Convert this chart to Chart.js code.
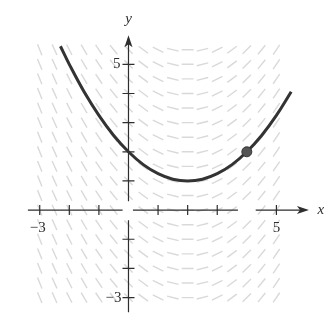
<!DOCTYPE html>
<html lang="en">
<head>
  <meta charset="UTF-8" />
  <title>Slope field dy/dx = (x - 2)/2</title>
  <style>
    html, body {
      margin: 0;
      padding: 0;
      background: #fff;
    }
    #wrap {
      width: 333px;
      height: 324px;
    }
  </style>
</head>
<body>
  <div id="wrap"><canvas id="field"></canvas></div>

  <script src="https://cdn.jsdelivr.net/npm/chart.js"></script>

  <script>
    // Slope field grid: one slope per column (it only depends on x)
    const fieldX = [-3, -2.5, -2, -1.5, -1, -0.5, 0, 0.5, 1, 1.5, 2, 2.5, 3, 3.5, 4, 4.5, 5];
    const fieldSlopes = [-2.5, -2.25, -2, -1.75, -1.5, -1.25, -1, -0.75, -0.5, -0.25, 0, 0.25, 0.5, 0.75, 1, 1.25, 1.5];
    const fieldY = [-3, -2.5, -2, -1.5, -1, -0.5, 0, 0.5, 1, 1.5, 2, 2.5, 3, 3.5, 4, 4.5, 5, 5.5];

    // Solution curve through (0, 2) and (4, 2)
    const curveX = [-2.3, -2, -1.5, -1, -0.5, 0, 0.5, 1, 1.5, 2, 2.5, 3, 3.5, 4, 4.5, 5, 5.5];
    const curveY = [5.62, 5.0, 4.06, 3.25, 2.56, 2.0, 1.56, 1.25, 1.06, 1.0, 1.06, 1.25, 1.56, 2.0, 2.56, 3.25, 4.06];

    // Marked point on the curve
    const markX = [4];
    const markY = [2];

    // Tick positions and the few labelled ticks
    const xTicks = [-3, -2, -1, 1, 2, 3, 4, 5];
    const yTicks = [-3, -2, -1, 1, 2, 3, 4, 5];
    const xLabels = ['-3', '5'];
    const yLabels = ['5', '-3'];

    // Build short segments, separated by nulls so the line breaks
    const segLen = 0.4;
    const segments = [];
    fieldX.forEach((x, i) => {
      const m = fieldSlopes[i];
      const dx = (segLen / 2) / Math.sqrt(1 + m * m);
      fieldY.forEach(y => {
        // leave the label gaps on the x-axis clear
        if (Math.abs(y) < 0.3 && (Math.abs(x) < 0.3 || Math.abs(x - 4) < 0.3)) return;
        segments.push({ x: x - dx, y: y - m * dx });
        segments.push({ x: x + dx, y: y + m * dx });
        segments.push({ x: x, y: null });
      });
    });

    const curve = curveX.map((x, i) => ({ x: x, y: curveY[i] }));
    const mark = markX.map((x, i) => ({ x: x, y: markY[i] }));

    const ink = '#2e2e2e';
    const serif = '"Liberation Serif", "DejaVu Serif", serif';

    // Axes with crossing ticks and arrow heads, drawn over the field
    const axesPlugin = {
      id: 'axes',
      afterDatasetDraw(chart, args) {
        if (args.index !== 0) return;
        const ctx = chart.ctx;
        const sx = chart.scales.x, sy = chart.scales.y;
        const px = v => sx.getPixelForValue(v);
        const py = v => sy.getPixelForValue(v);
        const x0 = px(0), y0 = py(0);

        ctx.save();
        ctx.strokeStyle = ink;
        ctx.fillStyle = ink;
        ctx.lineWidth = 1.2;

        // x-axis, broken where the labels sit
        const xRuns = [[-3.4, -0.2], [0.15, 3.7], [4.3, 6.0]];
        ctx.beginPath();
        xRuns.forEach(r => {
          ctx.moveTo(px(r[0]), y0);
          ctx.lineTo(px(r[1]), y0);
        });
        // y-axis
        ctx.moveTo(x0, py(-3.5));
        ctx.lineTo(x0, py(-0.35));
        ctx.moveTo(x0, py(0.3));
        ctx.lineTo(x0, py(5.9));
        ctx.stroke();

        // ticks
        ctx.beginPath();
        xTicks.forEach(t => {
          if (t === 4) return;
          ctx.moveTo(px(t), y0 - 5);
          ctx.lineTo(px(t), y0 + 5);
        });
        yTicks.forEach(t => {
          ctx.moveTo(x0 - 6, py(t));
          ctx.lineTo(x0 + 6, py(t));
        });
        ctx.stroke();

        // arrow heads
        const ax = px(6.1), ay = py(6.0);
        ctx.beginPath();
        ctx.moveTo(ax, y0);
        ctx.lineTo(ax - 12, y0 - 4);
        ctx.lineTo(ax - 9, y0);
        ctx.lineTo(ax - 12, y0 + 4);
        ctx.closePath();
        ctx.fill();
        ctx.beginPath();
        ctx.moveTo(x0, ay);
        ctx.lineTo(x0 - 4, ay + 12);
        ctx.lineTo(x0, ay + 9);
        ctx.lineTo(x0 + 4, ay + 12);
        ctx.closePath();
        ctx.fill();

        // labels
        ctx.font = '15px ' + serif;
        ctx.textBaseline = 'middle';
        ctx.textAlign = 'center';
        ctx.fillText(xLabels[0].replace('-', '\u2212'), px(-3) - 2, y0 + 18);
        ctx.fillText(xLabels[1], px(5), y0 + 18);
        ctx.textAlign = 'right';
        ctx.fillText(yLabels[0], x0 - 8, py(5));
        ctx.fillText(yLabels[1].replace('-', '\u2212'), x0 - 7, py(-3));

        ctx.font = 'italic 15px ' + serif;
        ctx.textAlign = 'center';
        ctx.fillText('x', px(6.1) + 12, y0);
        ctx.fillText('y', x0, py(6.0) - 16);
        ctx.restore();
      }
    };

    new Chart(document.getElementById('field').getContext('2d'), {
      type: 'scatter',
      data: {
        datasets: [
          {
            label: 'field',
            data: segments,
            showLine: true,
            spanGaps: false,
            borderColor: 'rgba(170, 170, 170, 0.45)',
            borderWidth: 1.4,
            pointRadius: 0,
            order: 3
          },
          {
            label: 'curve',
            data: curve,
            showLine: true,
            borderColor: '#333',
            borderWidth: 3,
            tension: 0.4,
            pointRadius: 0,
            order: 1
          },
          {
            label: 'point',
            data: mark,
            pointRadius: 5,
            pointBackgroundColor: '#555',
            pointBorderColor: '#333',
            pointBorderWidth: 1,
            order: 0
          }
        ]
      },
      options: {
        responsive: true,
        maintainAspectRatio: false,
        animation: false,
        layout: { padding: 0 },
        scales: {
          x: { type: 'linear', min: -4.14, max: 6.71, display: false },
          y: { type: 'linear', min: -3.7, max: 7.0, display: false }
        },
        plugins: {
          legend: { display: false },
          tooltip: { enabled: false }
        }
      },
      plugins: [axesPlugin]
    });
  </script>
</body>
</html>
